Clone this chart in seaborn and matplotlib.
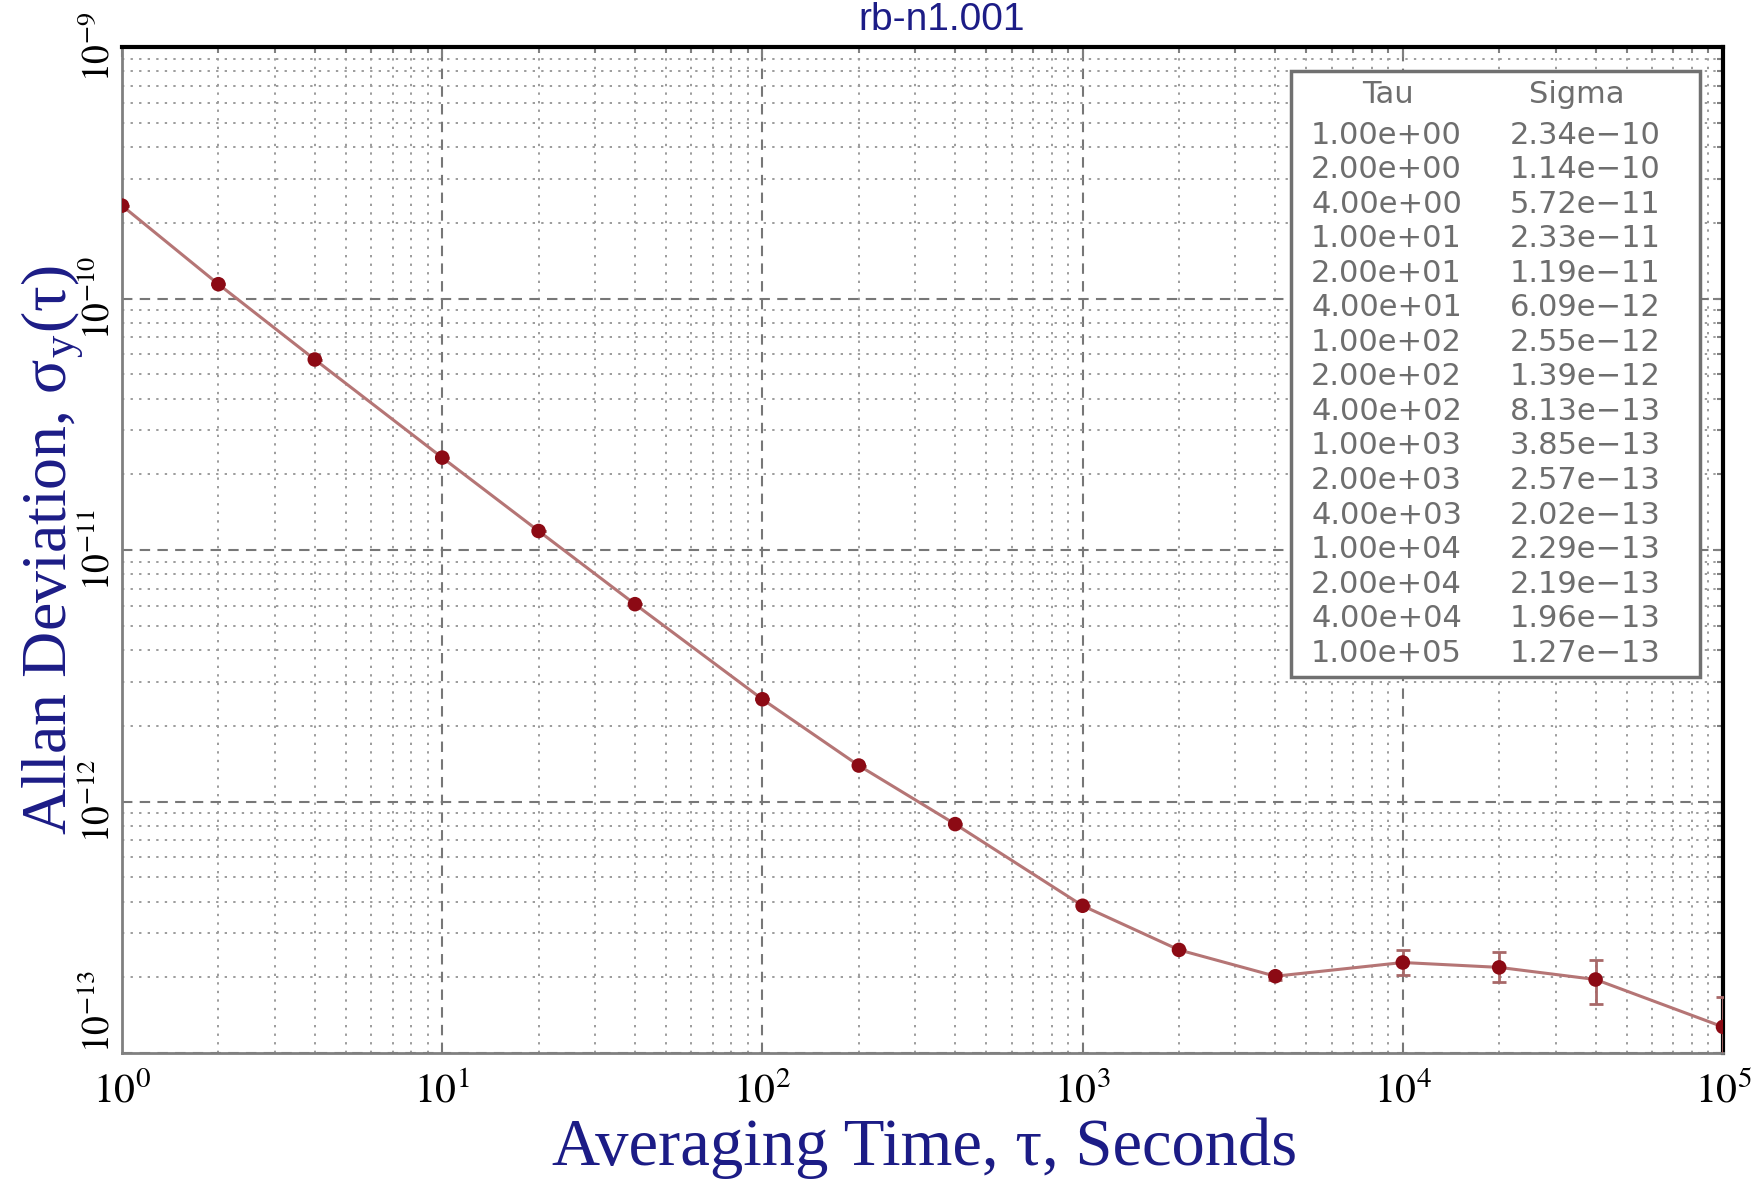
import numpy as np
import pandas as pd
import matplotlib
matplotlib.use("Agg")
import matplotlib.pyplot as plt
import seaborn as sns
from matplotlib.ticker import LogLocator, NullFormatter
from matplotlib.patches import Rectangle

# ---- data ----
tau = [1, 2, 4, 10, 20, 40, 100, 200, 400, 1000, 2000, 4000, 1e4, 2e4, 4e4, 1e5]
sigma = [2.34e-10, 1.14e-10, 5.72e-11, 2.33e-11, 1.19e-11, 6.09e-12, 2.55e-12,
         1.39e-12, 8.13e-13, 3.85e-13, 2.57e-13, 2.02e-13, 2.29e-13, 2.19e-13,
         1.96e-13, 1.27e-13]
# error bar ends (bars are only visible beyond the markers for the last points)
sigma_lo = [2.34e-10, 1.14e-10, 5.72e-11, 2.33e-11, 1.19e-11, 6.09e-12, 2.55e-12,
            1.39e-12, 8.13e-13, 3.85e-13, 2.57e-13, 1.96e-13, 2.05e-13, 1.91e-13,
            1.57e-13, 0.97e-13]
sigma_hi = [2.34e-10, 1.14e-10, 5.72e-11, 2.33e-11, 1.19e-11, 6.09e-12, 2.55e-12,
            1.39e-12, 8.13e-13, 3.85e-13, 2.57e-13, 2.08e-13, 2.56e-13, 2.51e-13,
            2.35e-13, 1.67e-13]
xticks = [1, 10, 100, 1e3, 1e4, 1e5]
xtick_labels = [r"$10^{0}$", r"$10^{1}$", r"$10^{2}$", r"$10^{3}$", r"$10^{4}$", r"$10^{5}$"]
yticks = [1e-13, 1e-12, 1e-11, 1e-10, 1e-9]
ytick_labels = [r"$10^{-13}$", r"$10^{-12}$", r"$10^{-11}$", r"$10^{-10}$", r"$10^{-9}$"]
title = "rb-n1.001"
xlabel = "Averaging Time, τ, Seconds"
ylabel = r"Allan Deviation, σ$_\mathdefault{y}$(τ)"
col_headers = ["Tau", "Sigma"]

# ---- style ----
sns.set_style("white")
plt.rcParams["font.family"] = ["Liberation Serif", "DejaVu Serif"]
plt.rcParams["mathtext.fontset"] = "stix"

navy = "#1c1c86"
line_col = "#b57575"
marker_col = "#8c0a14"

df = pd.DataFrame({"tau": tau, "sigma": sigma})

fig = plt.figure(figsize=(17.6, 11.81), dpi=100, facecolor="white")
ax = fig.add_axes([0.06932, 0.10838, 0.90966, 0.85182])
ax.set_facecolor("white")

ax.set_xscale("log")
ax.set_yscale("log")

yerr = np.array([np.array(sigma) - np.array(sigma_lo), np.array(sigma_hi) - np.array(sigma)])
ax.errorbar(tau, sigma, yerr=yerr, fmt="none", ecolor="#a86868", elinewidth=2,
            capsize=5, capthick=2, zorder=3)
sns.lineplot(data=df, x="tau", y="sigma", ax=ax, color=line_col, lw=2.2, zorder=3)
sns.scatterplot(data=df, x="tau", y="sigma", ax=ax, color=marker_col, s=110,
                edgecolor="none", zorder=4)

ax.set_xlim(1, 1e5)
ax.set_ylim(1e-13, 1e-9)

ax.set_xticks(xticks, labels=xtick_labels)
ax.set_yticks(yticks, labels=ytick_labels)
ax.xaxis.set_minor_locator(LogLocator(base=10, subs=np.arange(2, 10), numticks=30))
ax.yaxis.set_minor_locator(LogLocator(base=10, subs=np.arange(2, 10), numticks=30))
ax.xaxis.set_minor_formatter(NullFormatter())
ax.yaxis.set_minor_formatter(NullFormatter())

ax.grid(which="major", ls=(0, (5, 3.5)), color="#777777", lw=1.5)
ax.grid(which="minor", ls=(0, (1.2, 3.2)), color="#9c9c9c", lw=1.4)
ax.set_axisbelow(True)

ax.tick_params(which="both", direction="in", top=True, right=True, color="#808080")
ax.tick_params(which="major", length=7, width=1.5)
ax.tick_params(which="minor", length=4.5, width=1.5)
ax.tick_params(axis="x", which="major", labelsize=30, pad=14, labelcolor="black")
ax.tick_params(axis="y", which="major", labelsize=27, pad=3, labelcolor="black")

for sp in ["left", "bottom"]:
    ax.spines[sp].set_color("#808080")
    ax.spines[sp].set_linewidth(2)
for sp in ["top", "right"]:
    ax.spines[sp].set_color("black")
    ax.spines[sp].set_linewidth(3)

ylabs = ax.get_yticklabels()
for i, lab in enumerate(ylabs):
    lab.set_rotation(90)
    lab.set_va("bottom" if i == 0 else "center")

ax.set_xlabel(xlabel, fontsize=48, color=navy)
ax.xaxis.label.set_va("baseline")
ax.xaxis.set_label_coords(0.501, -0.1113)
ax.set_ylabel(ylabel, fontsize=46, color=navy)
ax.yaxis.label.set_va("baseline")
ax.yaxis.set_label_coords(-0.0355, 0.5)

fig.text(942 / 1760, 1 - 20 / 1181, title, ha="center", va="center", fontsize=28,
         family="Liberation Sans", color=navy)

# ---- table box ----
ax.add_patch(Rectangle((0.730, 0.3738), 0.9857 - 0.730, 0.976 - 0.3738,
                       transform=ax.transAxes, fc="white", ec="#707070", lw=2.5,
                       zorder=5, clip_on=False))
tcol = "#6e6e6e"
tfont = dict(family="DejaVu Sans", fontsize=22, color=tcol, zorder=6)
ax.text(0.7908, 0.953, col_headers[0], transform=ax.transAxes, ha="center", va="center", **tfont)
ax.text(0.9088, 0.953, col_headers[1], transform=ax.transAxes, ha="center", va="center", **tfont)
for i, (t, s) in enumerate(zip(tau, sigma)):
    yy = 0.9125 - 0.03434 * i
    ax.text(0.7427, yy, f"{t:.2e}", transform=ax.transAxes, ha="left", va="center", **tfont)
    ax.text(0.8670, yy, f"{s:.2e}".replace("-", "\u2212"), transform=ax.transAxes,
            ha="left", va="center", **tfont)

fig.savefig("out.png", dpi=100, facecolor="white")
